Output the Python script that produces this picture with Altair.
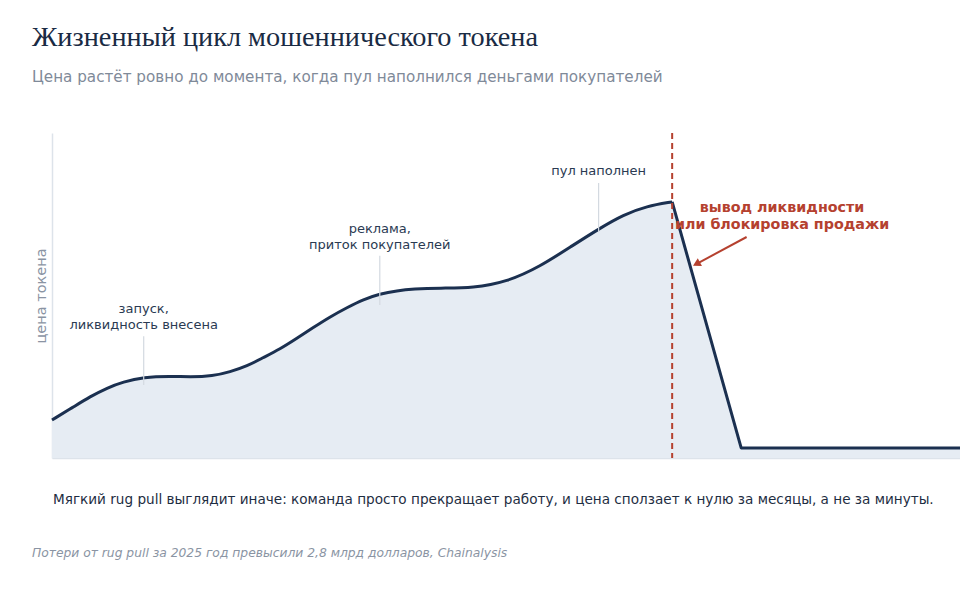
import altair as alt
import pandas as pd

# price curve (time 0..100, price 0..100)
curve_t = [0.0, 2.3, 4.2, 6.1, 7.8, 10.1, 13.0, 15.2, 17.7, 19.6, 21.5, 23.2, 25.1,
           27.0, 28.7, 30.6, 32.5, 34.3, 36.1, 38.0, 39.8, 42.7, 46.4, 50.1, 53.7,
           57.4, 60.4, 62.9, 65.5, 68.3]
curve_p = [11.7, 15.6, 18.9, 21.6, 23.4, 24.9, 25.2, 24.9, 25.2, 26.5, 28.3, 30.8, 33.5,
           36.9, 40.0, 43.4, 46.3, 48.8, 50.5, 51.5, 52.0, 52.3, 52.3, 54.2, 58.8,
           65.5, 70.8, 74.8, 77.5, 78.8]
crash_t = [68.3, 75.9, 100]
crash_p = [78.8, 3.1, 3.1]

rug_t = 68.3

note_text = ["запуск,\nликвидность внесена", "реклама,\nприток покупателей", "пул наполнен"]
note_t = [10.1, 36.1, 60.2]
note_p = [46.0, 70.5, 88.3]
lead_lo = [22.5, 47.1, 69.5]
lead_hi = [37.5, 62.2, 84.6]

rug_label = "вывод ликвидности\nили блокировка продажи"
rug_label_t, rug_label_p = 80.4, 76.8
arrow_from = (76.5, 68.0)
arrow_to = (71.1, 59.9)

NAVY = "#1b3050"
RED = "#b5412f"
FILL = "#e6ecf3"
SANS = "DejaVu Sans"

smooth = pd.DataFrame({"t": curve_t, "p": curve_p})
crash = pd.DataFrame({"t": crash_t, "p": crash_p})
notes = pd.DataFrame({"text": note_text, "t": note_t, "p": note_p, "lo": lead_lo, "hi": lead_hi})

x = alt.X("t:Q", scale=alt.Scale(domain=[0, 100], nice=False),
          axis=alt.Axis(title=None, labels=False, ticks=False, grid=False,
                        domainColor="#dde3ea", domainWidth=1.5))
y = alt.Y("p:Q", scale=alt.Scale(domain=[0, 100], nice=False),
          axis=alt.Axis(title="цена токена", labels=False, ticks=False, grid=False,
                        domainColor="#dde3ea", domainWidth=1.5, titleFont=SANS,
                        titleFontSize=14.5, titleFontWeight="normal", titleColor="#8a94a3",
                        titlePadding=4))

area_smooth = alt.Chart(smooth).mark_area(interpolate="basis", color=FILL).encode(x=x, y=y)
area_crash = alt.Chart(crash).mark_area(interpolate="linear", color=FILL).encode(x="t:Q", y="p:Q")
line_smooth = alt.Chart(smooth).mark_line(interpolate="basis", color=NAVY, strokeWidth=3).encode(x="t:Q", y="p:Q")
line_crash = alt.Chart(crash).mark_line(interpolate="linear", color=NAVY, strokeWidth=3,
                                        strokeJoin="round").encode(x="t:Q", y="p:Q")

rug = alt.Chart(pd.DataFrame({"t": [rug_t]})).mark_rule(
    color=RED, strokeWidth=2, strokeDash=[6, 4]).encode(x="t:Q")

leaders = alt.Chart(notes).mark_rule(color="#d3d9e0", strokeWidth=1.2).encode(
    x="t:Q", y="lo:Q", y2="hi:Q")
labels = alt.Chart(notes).mark_text(
    font=SANS, fontSize=13, color="#2a3a52", align="center", baseline="middle",
    lineBreak="\n", lineHeight=16).encode(x="t:Q", y="p:Q", text="text:N")

rug_text = alt.Chart(pd.DataFrame({"text": [rug_label], "t": [rug_label_t], "p": [rug_label_p]})).mark_text(
    font=SANS, fontSize=14.3, fontWeight="bold", color=RED, align="center", baseline="middle",
    lineBreak="\n", lineHeight=17).encode(x="t:Q", y="p:Q", text="text:N")

arrow_df = pd.DataFrame({"t": [arrow_from[0]], "p": [arrow_from[1]],
                         "t2": [arrow_to[0]], "p2": [arrow_to[1]]})
arrow_shaft = alt.Chart(arrow_df).mark_rule(color=RED, strokeWidth=2).encode(
    x="t:Q", y="p:Q", x2="t2:Q", y2="p2:Q")
arrow_head = alt.Chart(arrow_df).mark_point(
    shape="triangle", angle=242, size=80, filled=True, color=RED, opacity=1).encode(x="t2:Q", y="p2:Q")

foot = alt.Chart(pd.DataFrame({"text": [
    "Мягкий rug pull выглядит иначе: команда просто прекращает работу, и цена сползает к нулю за месяцы, а не за минуты."]})
).mark_text(font=SANS, fontSize=13.6, color="#1e2d42", align="left", baseline="middle").encode(
    x=alt.value(1), y=alt.value(367), text="text:N")
source = alt.Chart(pd.DataFrame({"text": [
    "Потери от rug pull за 2025 год превысили 2,8 млрд долларов, Chainalysis"]})
).mark_text(font=SANS, fontSize=12.3, fontStyle="italic", color="#8a94a3", align="left",
            baseline="middle").encode(x=alt.value(-20), y=alt.value(420), text="text:N")

chart = alt.layer(
    area_smooth, area_crash, line_smooth, line_crash, rug, leaders, labels,
    rug_text, arrow_shaft, arrow_head, foot, source
).properties(
    width=908, height=325,
    autosize=alt.AutoSizeParams(type="none"),
    padding={"left": 44, "top": 125, "right": 0, "bottom": 110},
    title=alt.TitleParams(
        text="Жизненный цикл мошеннического токена",
        subtitle="Цена растёт ровно до момента, когда пул наполнился деньгами покупателей",
        anchor="start", frame="group", dx=-20, offset=46,
        font="Liberation Serif", fontSize=28.3, fontWeight="normal", color="#1a2b44",
        subtitleFont=SANS, subtitleFontSize=15.2, subtitleColor="#7f8a99", subtitlePadding=18,
    ),
).configure_view(stroke=None)

chart.save("out.html", embed_options={"renderer": "svg", "actions": False})
